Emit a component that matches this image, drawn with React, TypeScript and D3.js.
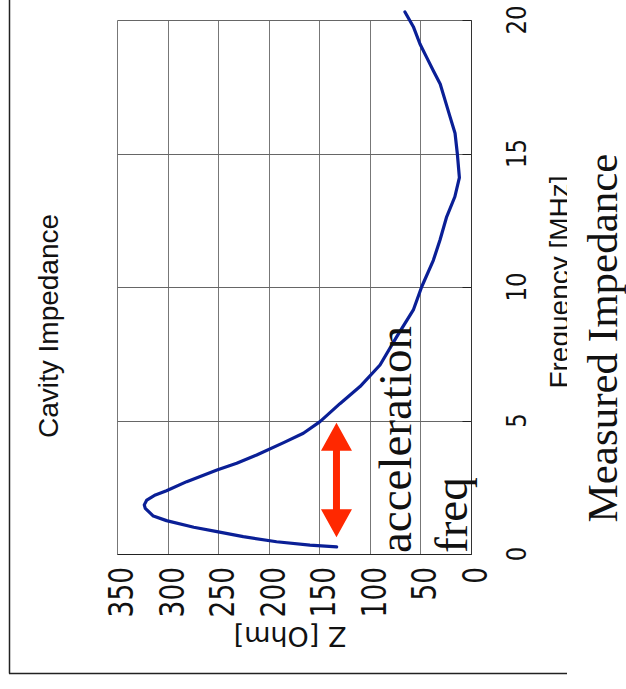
import React from 'react'
import * as d3 from 'd3'

// measured impedance (frequency in MHz, Z in ohm)
const freqMHz = [0.27, 0.33, 0.46, 0.65, 0.84, 1.0, 1.25, 1.42, 1.71, 1.84, 2.02, 2.21, 2.37, 2.71, 3.15, 3.4, 3.71, 4.17, 4.52, 4.96, 5.64, 6.27, 7.08, 8.14, 9.14, 10.01, 11.0, 11.76, 12.63, 13.38, 14.1, 14.98, 15.76, 16.38, 17.0, 17.6, 18.1, 18.6, 19.1, 19.75, 20.3]
const zOhm = [132.5, 159, 192, 225, 251, 274, 301, 314, 322, 323, 320.5, 312, 301, 281, 251, 231.5, 211.7, 185, 165.5, 149, 129, 109.4, 89.6, 73, 56.6, 48.3, 36.8, 30.2, 23.6, 15.5, 11, 13, 15.3, 20.3, 25.2, 30, 36.8, 43.4, 50, 56.6, 64.9]

const freqTicks = [0, 5, 10, 15, 20]
const zTicks = [0, 50, 100, 150, 200, 250, 300, 350]

// accelerating band marked by the red arrow: [Z, f low, f high]
const arrowZ = 132.7
const arrowRange = [0.63, 4.92]

const W = 626
const H = 689

const sansFont = "'DejaVu Sans', 'Liberation Sans', sans-serif"

const App = () => {
  // chart is drawn turned 90deg: frequency runs up the page, Z runs right to left
  const fScale = d3.scaleLinear().domain([0, 20]).range([554, 20])
  const zScale = d3.scaleLinear().domain([0, 350]).range([470.5, 117])

  const pts = freqMHz.map((f, i) => ({ f, z: zOhm[i] }))
  const line = d3.line<{ f: number; z: number }>()
    .x(d => zScale(d.z))
    .y(d => fScale(d.f))

  const px = (v: number) => Math.round(v) + 0.5

  const ax = zScale(arrowZ)
  const yTop = fScale(arrowRange[1])
  const yBot = fScale(arrowRange[0])
  const hl = 28, hw = 15.5, sw = 3.5
  const arrow = [
    [ax, yTop], [ax + hw, yTop + hl], [ax + sw, yTop + hl], [ax + sw, yBot - hl], [ax + hw, yBot - hl],
    [ax, yBot], [ax - hw, yBot - hl], [ax - sw, yBot - hl], [ax - sw, yTop + hl], [ax - hw, yTop + hl]
  ]

  const left = zScale(350), right = zScale(0), top = fScale(20), bottom = fScale(0)

  return (
    <svg width={W} height={H} style={{ position: 'absolute', left: 0, top: 0, display: 'block', background: '#fff' }}>
      {/* outer frame */}
      <line x1={9.5} x2={9.5} y1={0} y2={673.5} stroke="#222" strokeWidth={1.5} />
      <line x1={9} x2={W} y1={673.5} y2={673.5} stroke="#222" strokeWidth={1.5} />

      {/* grid */}
      {zTicks.map(t => (
        <line key={'zg' + t} x1={px(zScale(t))} x2={px(zScale(t))} y1={px(top)} y2={px(bottom)} stroke="#777" strokeWidth={1} />
      ))}
      {freqTicks.map(t => (
        <line key={'fg' + t} x1={px(left)} x2={px(right)} y1={px(fScale(t))} y2={px(fScale(t))} stroke="#666" strokeWidth={1} />
      ))}
      {freqTicks.map(t => (
        <line key={'ft' + t} x1={px(right) - 9} x2={px(right)} y1={px(fScale(t))} y2={px(fScale(t))} stroke="#222" strokeWidth={1} />
      ))}
      <line x1={px(right)} x2={px(right)} y1={px(top)} y2={px(bottom)} stroke="#333" strokeWidth={1} />
      <line x1={px(left)} x2={px(right)} y1={px(bottom)} y2={px(bottom)} stroke="#222" strokeWidth={1.2} />

      {/* Z tick labels */}
      {zTicks.map(t => (
        <text key={'zl' + t} transform={`translate(${zScale(t) + 16},567) rotate(-90) scale(0.8,1)`} textAnchor="end"
          fontFamily={sansFont} fontSize={33} fill="#111">{t}</text>
      ))}
      {/* frequency tick labels */}
      {freqTicks.map(t => (
        <text key={'fl' + t} transform={`translate(526,${fScale(t)}) rotate(-90) scale(0.85,1)`} textAnchor="middle"
          fontFamily={sansFont} fontSize={27} fill="#111">{t}</text>
      ))}

      <text transform="translate(290,627) rotate(180)" textAnchor="middle" fontFamily={sansFont} fontSize={27} fill="#111">Z [Ohm]</text>
      <text transform="translate(58,326) rotate(-90)" textAnchor="middle" fontFamily="'Liberation Sans', Arial, sans-serif" fontSize={28} fill="#111">Cavity Impedance</text>

      {/* data */}
      <path d={line(pts) || ''} fill="none" stroke="#0a1f96" strokeWidth={3.2} strokeLinejoin="round" strokeLinecap="round" />

      {/* annotation */}
      <polygon points={arrow.map(p => p.join(',')).join(' ')} fill="#ff2800" />
      <text transform="translate(411,553) rotate(-90)" fontFamily="'Liberation Serif', 'Times New Roman', serif" fontSize={47} fill="#111">acceleration</text>
      <text transform="translate(467,553) rotate(-90)" fontFamily="'Liberation Serif', 'Times New Roman', serif" fontSize={47} fill="#111">freq</text>

      <text transform="translate(569,282) rotate(-90)" textAnchor="middle" fontFamily="'Liberation Sans', sans-serif" fontSize={28} fill="#111">Frequency [MHz]</text>

      {/* text box covering the right margin */}
      <rect x={567} y={0} width={W - 567} height={H} fill="#fff" />
      <text transform="translate(617,338) rotate(-90)" textAnchor="middle" fontFamily="'Liberation Serif', 'Times New Roman', serif" fontSize={43} fill="#111">Measured Impedance</text>
    </svg>
  )
}

export default App
